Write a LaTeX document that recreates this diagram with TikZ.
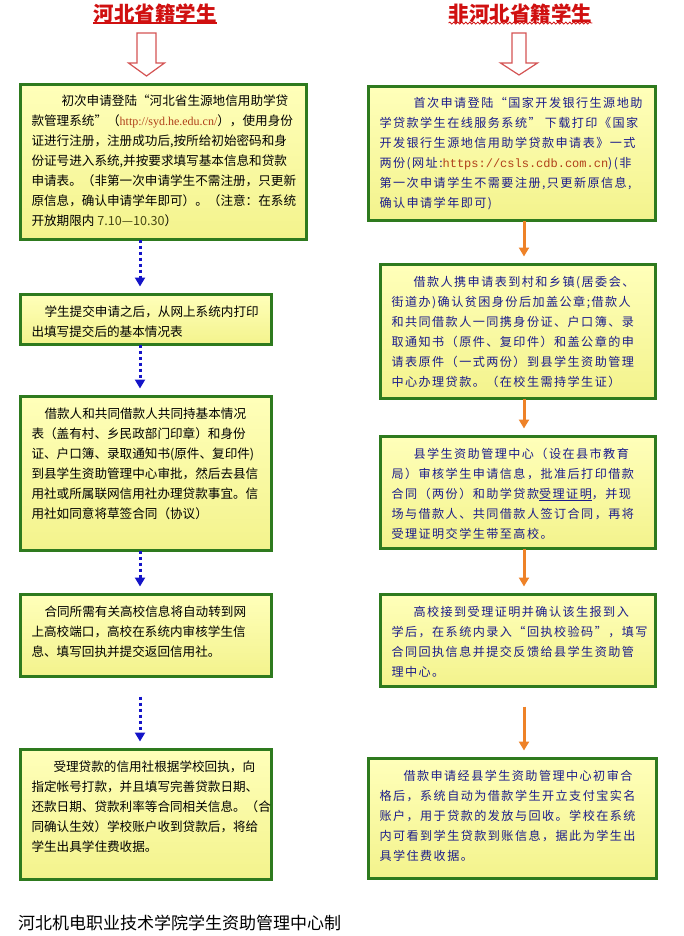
\documentclass[tikz,border=0pt]{standalone}
\usepackage{fontspec}
\usepackage{xcolor}
\usepackage{tikz}
\usetikzlibrary{arrows.meta,decorations.pathmorphing}
\setmainfont{Noto Sans CJK SC}
\newfontfamily\rightfont[LetterSpace=12]{Noto Sans CJK SC}
\newfontfamily\urlserif{Liberation Serif}
\newfontfamily\urlmono{Liberation Mono}
\definecolor{boxgreen}{RGB}{46,122,30}
\definecolor{boxtop}{RGB}{255,255,186}
\definecolor{boxbottom}{RGB}{243,243,140}
\definecolor{headred}{RGB}{208,16,16}
\definecolor{hollowred}{RGB}{212,84,84}
\definecolor{dotblue}{RGB}{20,20,200}
\definecolor{linkbrown}{RGB}{176,64,26}
\definecolor{dateolive}{RGB}{70,70,20}
\definecolor{stepblue}{RGB}{28,28,140}
\definecolor{arroworange}{RGB}{238,130,40}
\newcommand{\steptext}[3]{\parbox[t][#1][t]{#2}{\strut#3}}

\begin{document}
\begin{tikzpicture}[x=1pt,y=-1pt,>={Triangle[length=9pt,width=10pt]},
	stepbox/.style={draw=boxgreen,line width=3pt,top color=boxtop,bottom color=boxbottom,
		anchor=north west,inner xsep=11pt,inner ysep=7.5pt,outer sep=0pt},
	leftstep/.style={stepbox,font=\fontsize{12.6}{20}\selectfont},
	rightstep/.style={stepbox,font=\rightfont\fontsize{12.1}{20}\selectfont,text=stepblue},
	headtext/.style={font=\bfseries\fontsize{20.5}{24}\selectfont,text=headred,inner sep=0pt},
	dotarrow/.style={->,dotblue,line width=3pt,dash pattern=on 3pt off 3pt,shorten >=8pt},
	flowarrow/.style={->,arroworange,line width=3pt,shorten >=8pt},
	hollow/.style={draw=hollowred,line width=1.2pt,fill=white,line join=miter}]
	\fill[white] (0,0) rectangle (684,936);
	\useasboundingbox (0,0) rectangle (684,936);
	%
	\node[headtext] (lhead) at (155,14) {河北省籍学生};
	\node[headtext] (rhead) at (520.5,14) {非河北省籍学生};
	\draw[headred,line width=1.4pt] ([yshift=1pt]lhead.south west) -- ([yshift=1pt]lhead.south east);
	\draw[headred,line width=0.8pt,decorate,decoration={snake,amplitude=1pt,segment length=4pt}]
		([yshift=1pt]rhead.south west) -- ([yshift=1pt]rhead.south east);
	%
	\draw[hollow] (137,33) -- (156,33) -- (156,63) -- (164.5,63) -- (146.5,76)
		-- (128.5,63) -- (137,63) -- cycle;
	\draw[hollow] (512,33) -- (526,33) -- (526,63) -- (537.5,63) -- (519,75)
		-- (500.5,63) -- (512,63) -- cycle;
	%
	\node[leftstep] (l1) at (20.5,84.5) {\steptext{140pt}{264pt}{\hspace*{30pt}初次申请登陆“河北省生源地信用助学贷\\
		款管理系统”（{\urlserif\fontsize{12}{20}\selectfont\color{linkbrown}http://syd.he.edu.cn/}），使用身份\\
		证进行注册，注册成功后,按所给初始密码和身\\
		份证号进入系统,并按要求填写基本信息和贷款\\
		申请表。（非第一次申请学生不需注册，只更新\\
		原信息，确认申请学年即可）。（注意：在系统\\
		开放期限内 {\color{dateolive}7.10—10.30}）}};
	\node[leftstep] (l2) at (20.5,294.5) {\steptext{35pt}{229pt}{\hspace*{13pt}学生提交申请之后，从网上系统内打印\\
		出填写提交后的基本情况表}};
	\node[leftstep] (l3) at (20.5,396.5) {\steptext{139pt}{229pt}{\hspace*{13pt}借款人和共同借款人共同持基本情况\\
		表（盖有村、乡民政部门印章）和身份\\
		证、户口簿、录取通知书(原件、复印件)\\
		到县学生资助管理中心审批，然后去县信\\
		用社或所属联网信用社办理贷款事宜。信\\
		用社如同意将草签合同（协议）}};
	\node[leftstep] (l4) at (20.5,594.5) {\steptext{67pt}{229pt}{\hspace*{13pt}合同所需有关高校信息将自动转到网\\
		上高校端口，高校在系统内审核学生信\\
		息、填写回执并提交返回信用社。}};
	\node[leftstep] (l5) at (20.5,749.5) {\steptext{115pt}{229pt}{\hspace*{22pt}受理贷款的信用社根据学校回执，向\\
		指定帐号打款，并且填写完善贷款日期、\\
		还款日期、贷款利率等合同相关信息。（合\\
		同确认生效）学校账户收到贷款后，将给\\
		学生出具学住费收据。}};
	%
	\node[rightstep] (r1) at (368.5,86.5) {\steptext{119pt}{265pt}{\hspace*{34pt}首次申请登陆“国家开发银行生源地助\\
		学贷款学生在线服务系统” 下载打印《国家\\
		开发银行生源地信用助学贷款申请表》一式\\
		两份(网址:{\urlmono\fontsize{12}{20}\selectfont\color{linkbrown}https://csls.cdb.com.cn})(非\\
		第一次申请学生不需要注册,只更新原信息,\\
		确认申请学年即可)}};
	\node[rightstep] (r2) at (380.5,264.5) {\steptext{119pt}{253pt}{\hspace*{22pt}借款人携申请表到村和乡镇(居委会、\\
		街道办)确认贫困身份后加盖公章;借款人\\
		和共同借款人一同携身份证、户口簿、录\\
		取通知书（原件、复印件）和盖公章的申\\
		请表原件（一式两份）到县学生资助管理\\
		中心办理贷款。（在校生需持学生证）}};
	\node[rightstep] (r3) at (380.5,436.5) {\steptext{97pt}{253pt}{\hspace*{22pt}县学生资助管理中心（设在县市教育\\
		局）审核学生申请信息，批准后打印借款\\
		合同（两份）和助学贷款\underline{受理证明}，并现\\
		场与借款人、共同借款人签订合同，再将\\
		受理证明交学生带至高校。}};
	\node[rightstep] (r4) at (380.5,594.5) {\steptext{77pt}{253pt}{\hspace*{22pt}高校接到受理证明并确认该生报到入\\
		学后，在系统内录入“回执校验码”，填写\\
		合同回执信息并提交反馈给县学生资助管\\
		理中心。}};
	\node[rightstep] (r5) at (368.5,758.5) {\steptext{105pt}{266pt}{\hspace*{24pt}借款申请经县学生资助管理中心初审合\\
		格后，系统自动为借款学生开立支付宝实名\\
		账户，用于贷款的发放与回收。学校在系统\\
		内可看到学生贷款到账信息，据此为学生出\\
		具学住费收据。}};
	%
	\node[anchor=west,inner sep=0pt,font=\fontsize{17}{20}\selectfont] (maker) at (18,923)
		{河北机电职业技术学院学生资助管理中心制};
	%
	\coordinate (lcol) at (140,0);
	\coordinate (rcol) at (524,0);
	\draw[dotarrow] (l1.south -| lcol) -- (l2.north -| lcol);
	\draw[dotarrow] (l2.south -| lcol) -- (l3.north -| lcol);
	\draw[dotarrow] (l3.south -| lcol) -- (l4.north -| lcol);
	\draw[dotarrow,shorten <=20pt] (l4.south -| lcol) -- (l5.north -| lcol);
	\draw[flowarrow] (r1.south -| rcol) -- (r2.north -| rcol);
	\draw[flowarrow] (r2.south -| rcol) -- (r3.north -| rcol);
	\draw[flowarrow] (r3.south -| rcol) -- (r4.north -| rcol);
	\draw[flowarrow,shorten <=20pt] (r4.south -| rcol) -- (r5.north -| rcol);
\end{tikzpicture}
\end{document}
